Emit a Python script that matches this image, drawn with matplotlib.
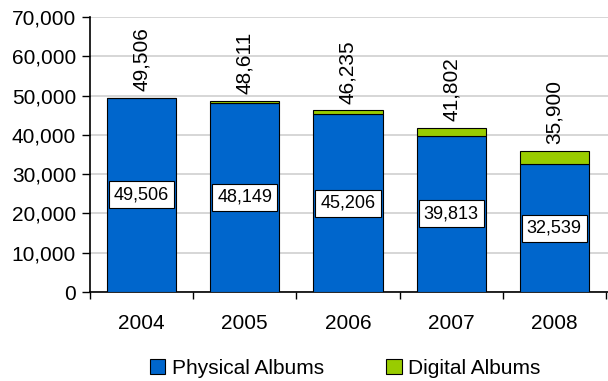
import numpy as np
import matplotlib
matplotlib.use("Agg")
import matplotlib.pyplot as plt
from matplotlib.ticker import FuncFormatter

years = ["2004", "2005", "2006", "2007", "2008"]
physical = [49506, 48149, 45206, 39813, 32539]
totals = [49506, 48611, 46235, 41802, 35900]
digital = [t - p for t, p in zip(totals, physical)]

plt.rcParams['font.family'] = ['Liberation Sans', 'DejaVu Sans']

fig = plt.figure(figsize=(6.08, 3.81), dpi=100)
ax = fig.add_axes([90/608, 1 - 292/381, 518/608, 275/381])

x = np.arange(len(years))
w = 0.67
ax.bar(x, physical, w, color='#0066CC', edgecolor='black', linewidth=0.8,
       label='Physical Albums', zorder=3)
ax.bar(x, digital, w, bottom=physical, color='#99CC00', edgecolor='black',
       linewidth=0.8, label='Digital Albums', zorder=3)

for i in range(len(years)):
    ax.text(x[i], physical[i] / 2, f"{physical[i]:,}", ha='center', va='center',
            fontsize=13, zorder=4,
            bbox=dict(boxstyle='square,pad=0.28', fc='white', ec='black', lw=0.8))
    ax.text(x[i], totals[i] + 1700, f"{totals[i]:,}", ha='center', va='bottom',
            rotation=90, fontsize=15)

ax.set_xlim(-0.5, len(years) - 0.5 + 0.02)
ax.set_ylim(0, 70000)
ax.set_yticks(np.arange(0, 70001, 10000))
ax.yaxis.set_major_formatter(FuncFormatter(lambda v, p: f"{int(v):,}"))
ax.set_xticks(x)
ax.set_xticklabels(years)
ax.set_xticks(np.arange(-0.5, len(years)), minor=True)
ax.tick_params(axis='x', which='major', length=0, labelsize=15, pad=16)
ax.tick_params(axis='x', which='minor', length=5, width=1, direction='out')
ax.tick_params(axis='y', length=6, width=1, direction='out', labelsize=15, pad=4)
ax.grid(axis='y', color='#CFCFCF', linewidth=1.2, zorder=0)
ax.spines['top'].set_visible(False)
ax.spines['right'].set_visible(False)
ax.spines['left'].set_linewidth(1.2)
ax.spines['bottom'].set_linewidth(1.2)

fig.legend(loc='center', bbox_to_anchor=(345/608, 1 - 368/381), ncol=2,
           frameon=False, fontsize=15, handlelength=0.75, handleheight=0.75,
           handletextpad=0.3, columnspacing=3.0)

fig.savefig('out.png', dpi=100)
